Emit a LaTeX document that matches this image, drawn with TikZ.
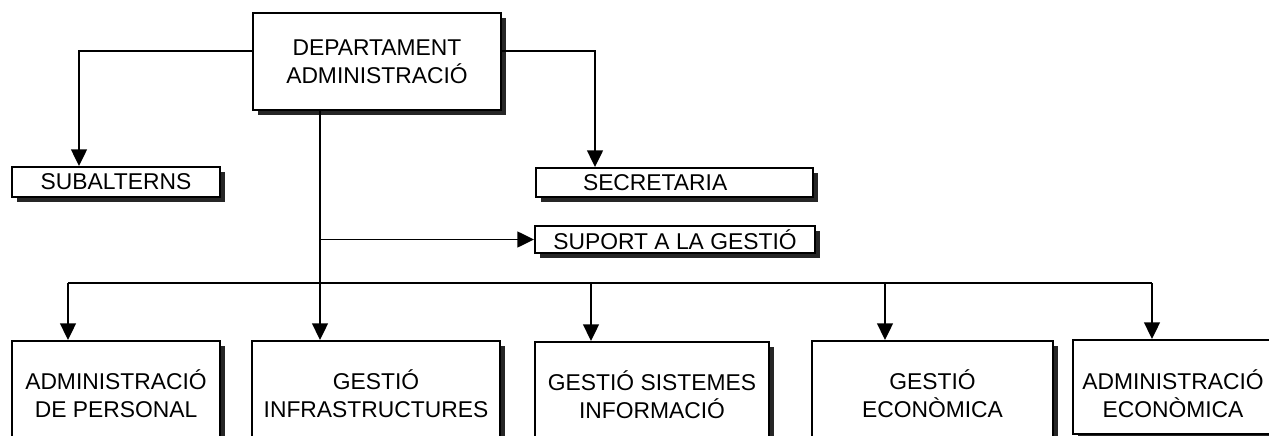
\documentclass[tikz,border=0pt]{standalone}
\usepackage{fontspec}
\setmainfont{Liberation Sans}
\usetikzlibrary{arrows.meta}
\usetikzlibrary{shadows}

\begin{document}
\begin{tikzpicture}[x=0.02cm,y=-0.02cm,
  caixa/.style={draw,line width=1.1pt,fill=white,inner sep=0pt,align=center,
    font=\fontsize{13}{16}\selectfont,
    drop shadow={shadow xshift=3pt,shadow yshift=-3pt,fill=black!85,opacity=1}},
  linia/.style={line width=1.1pt},
  fletxa/.style={line width=1.1pt,-{Triangle[length=9.5pt,width=9pt]}}]
\useasboundingbox (0,0) rectangle (1269,436);
\clip (0,0) rectangle (1269,436);
\node[caixa,minimum width=4.96cm,minimum height=1.94cm] (dept) at (377,61.5) {DEPARTAMENT\\ADMINISTRACIÓ};
\node[caixa,minimum width=4.16cm,minimum height=0.6cm] (sub) at (116,182) {SUBALTERNS};
\node[caixa,text width=5.54cm,align=left,minimum height=0.58cm] (sec) at (674.5,182.5) {\hspace*{0.94cm}SECRETARIA};
\node[caixa,minimum width=5.6cm,minimum height=0.54cm] (sup) at (675,239.5) {SUPORT A LA GESTIÓ};
\node[caixa,anchor=north,minimum width=4.16cm,minimum height=2.1cm] (pers) at (116,340) {ADMINISTRACIÓ\\DE PERSONAL};
\node[caixa,anchor=north,minimum width=4.96cm,minimum height=2.1cm] (infra) at (376,340) {GESTIÓ\\INFRASTRUCTURES};
\node[caixa,anchor=north,minimum width=4.68cm,minimum height=2.1cm] (sist) at (652,341) {GESTIÓ SISTEMES\\INFORMACIÓ};
\node[caixa,anchor=north,minimum width=4.82cm,minimum height=2.1cm] (geco) at (932.5,340) {GESTIÓ\\ECONÒMICA};
\node[caixa,anchor=north,minimum width=4cm,minimum height=1.88cm,text height=35pt] (aeco) at (1173,339) {ADMINISTRACIÓ\\ECONÒMICA};
\coordinate (bus) at (0,283);
\coordinate (t) at ([xshift=-1.14cm]dept.south);
\coordinate (s1) at ([xshift=-0.74cm]sub.north);
\coordinate (s2) at ([xshift=-1.59cm]sec.north);
\coordinate (p1) at ([xshift=-0.96cm]pers.north);
\coordinate (p3) at ([xshift=-1.22cm]sist.north);
\coordinate (p4) at ([xshift=-0.95cm]geco.north);
\coordinate (p5) at ([xshift=-0.42cm]aeco.north);
\draw[fletxa] ([yshift=0.21cm]dept.west) -| (s1);
\draw[fletxa] ([yshift=0.21cm]dept.east) -| (s2);
\draw[fletxa] (t) -- (t |- infra.north);
\draw[fletxa] (t |- sup.west) -- (sup.west);
\draw[linia] (p1 |- bus) -- (p5 |- bus);
\foreach \p in {p1,p3,p4,p5}
  \draw[fletxa] (\p |- bus) -- (\p);
\end{tikzpicture}
\end{document}
